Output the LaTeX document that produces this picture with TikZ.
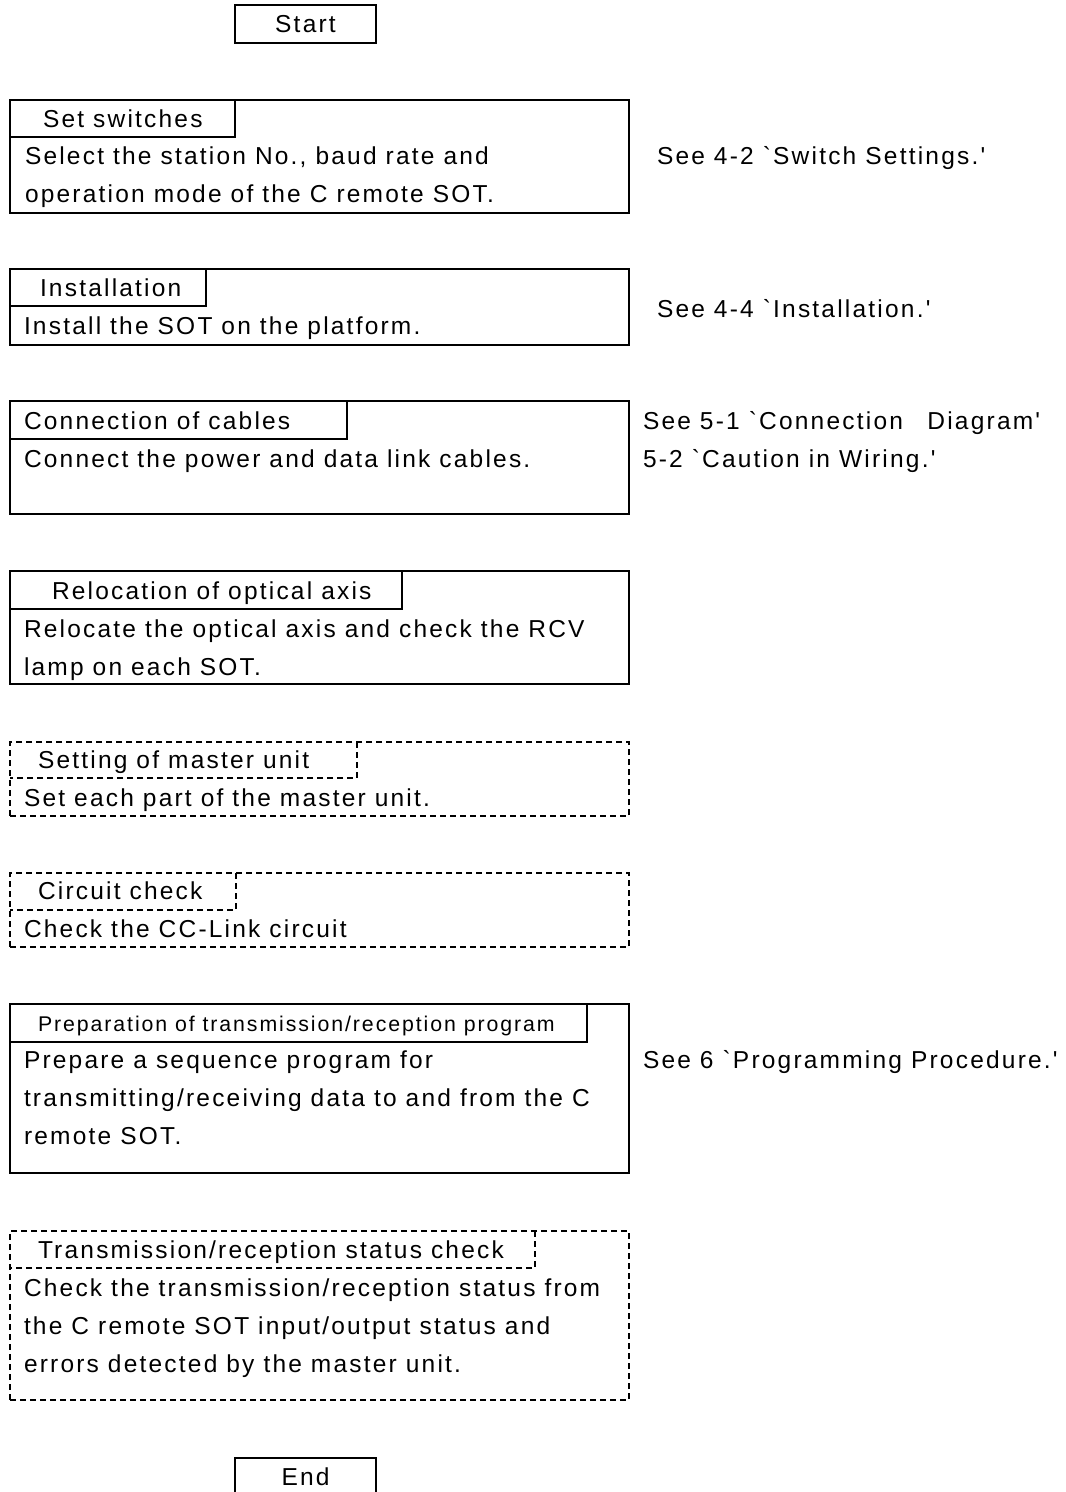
\documentclass[tikz,border=0pt]{standalone}
\usepackage{fontspec}
\setmainfont{Liberation Sans}[LetterSpace=9, Ligatures=TeXOff]
\begin{document}
\begin{tikzpicture}[x=1pt,y=-1pt,
  frame/.style={draw=black, line width=2pt, inner sep=0pt, outer sep=0pt, anchor=north west},
  dframe/.style={frame, dash pattern=on 6pt off 4pt, line width=1.6pt},
  tabline/.style={draw=black, line width=2pt},
  dtabline/.style={tabline, dash pattern=on 6pt off 4pt, line width=1.6pt},
  txt/.style={anchor=base west, inner sep=0pt, outer sep=0pt, font=\fontsize{24.5}{38}\selectfont},
  smalltxt/.style={txt, font=\fontsize{21.3}{30}\selectfont}]
\useasboundingbox (0,0) rectangle (1066,1492);
\newcommand\gr{\symbol{96}}
\newcommand\ap{\symbol{39}}
% Start
\node[frame, minimum width=141pt, minimum height=38pt] (start) at (235,5) {};
\node[txt, anchor=base] (starttxt) at (305.5,32) {Start};
% 1 Set switches
\node[frame, minimum width=619pt, minimum height=113pt] (b1) at (10,100) {};
\coordinate (t1) at (235,137);
\draw[tabline] (b1.north west -| t1) -- (t1) -- (b1.west |- t1);
\node[txt] (h1) at (43,127) {Set switches};
\node[txt] (l1a) at (25,164) {Select the station No., baud rate and};
\node[txt] (l1b) at (25,202) {operation mode of the C remote SOT.};
\node[txt] (n1) at (657,164) {See 4-2 \gr Switch Settings.\ap};
% 2 Installation
\node[frame, minimum width=619pt, minimum height=76pt] (b2) at (10,269) {};
\coordinate (t2) at (206,306);
\draw[tabline] (b2.north west -| t2) -- (t2) -- (b2.west |- t2);
\node[txt] (h2) at (40,296) {Installation};
\node[txt] (l2a) at (24,334) {Install the SOT on the platform.};
\node[txt] (n2) at (657,317) {See 4-4 \gr Installation.\ap};
% 3 Connection
\node[frame, minimum width=619pt, minimum height=113pt] (b3) at (10,401) {};
\coordinate (t3) at (347,439);
\draw[tabline] (b3.north west -| t3) -- (t3) -- (b3.west |- t3);
\node[txt] (h3) at (24,429) {Connection of cables};
\node[txt] (l3a) at (24,467) {Connect the power and data link cables.};
\node[txt] (n3a) at (643,429) {See 5-1 \gr Connection\hspace*{1em}Diagram\ap};
\node[txt] (n3b) at (643,467) {5-2 \gr Caution in Wiring.\ap};
% 4 Relocation
\node[frame, minimum width=619pt, minimum height=113pt] (b4) at (10,571) {};
\coordinate (t4) at (402,609);
\draw[tabline] (b4.north west -| t4) -- (t4) -- (b4.west |- t4);
\node[txt] (h4) at (52,599) {Relocation of optical axis};
\node[txt] (l4a) at (24,637) {Relocate the optical axis and check the RCV};
\node[txt] (l4b) at (24,675) {lamp on each SOT.};
% 5 Setting of master unit
\node[dframe, minimum width=619pt, minimum height=74pt] (b5) at (10,742) {};
\coordinate (t5) at (357,778);
\draw[dtabline] (b5.north west -| t5) -- (t5) -- (b5.west |- t5);
\node[txt] (h5) at (38,768) {Setting of master unit};
\node[txt] (l5a) at (24,806) {Set each part of the master unit.};
% 6 Circuit check
\node[dframe, minimum width=619pt, minimum height=74pt] (b6) at (10,873) {};
\coordinate (t6) at (236,910);
\draw[dtabline] (b6.north west -| t6) -- (t6) -- (b6.west |- t6);
\node[txt] (h6) at (38,899) {Circuit check};
\node[txt] (l6a) at (24,937) {Check the CC-Link circuit};
% 7 Preparation
\node[frame, minimum width=619pt, minimum height=169pt] (b7) at (10,1004) {};
\coordinate (t7) at (587,1042);
\draw[tabline] (b7.north west -| t7) -- (t7) -- (b7.west |- t7);
\node[smalltxt] (h7) at (38,1031) {Preparation of transmission/reception program};
\node[txt] (l7a) at (24,1068) {Prepare a sequence program for};
\node[txt] (l7b) at (24,1106) {transmitting/receiving data to and from the C};
\node[txt] (l7c) at (24,1144) {remote SOT.};
\node[txt] (n7) at (643,1068) {See 6 \gr Programming Procedure.\ap};
% 8 Transmission status check
\node[dframe, minimum width=619pt, minimum height=169pt] (b8) at (10,1231) {};
\coordinate (t8) at (535,1268);
\draw[dtabline] (b8.north west -| t8) -- (t8) -- (b8.west |- t8);
\node[txt] (h8) at (38,1258) {Transmission/reception status check};
\node[txt] (l8a) at (24,1296) {Check the transmission/reception status from};
\node[txt] (l8b) at (24,1334) {the C remote SOT input/output status and};
\node[txt] (l8c) at (24,1372) {errors detected by the master unit.};
% End
\node[frame, minimum width=141pt, minimum height=60pt] (endbox) at (235,1458) {};
\node[txt, anchor=base] (endtxt) at (305.5,1485) {End};
\end{tikzpicture}
\end{document}
